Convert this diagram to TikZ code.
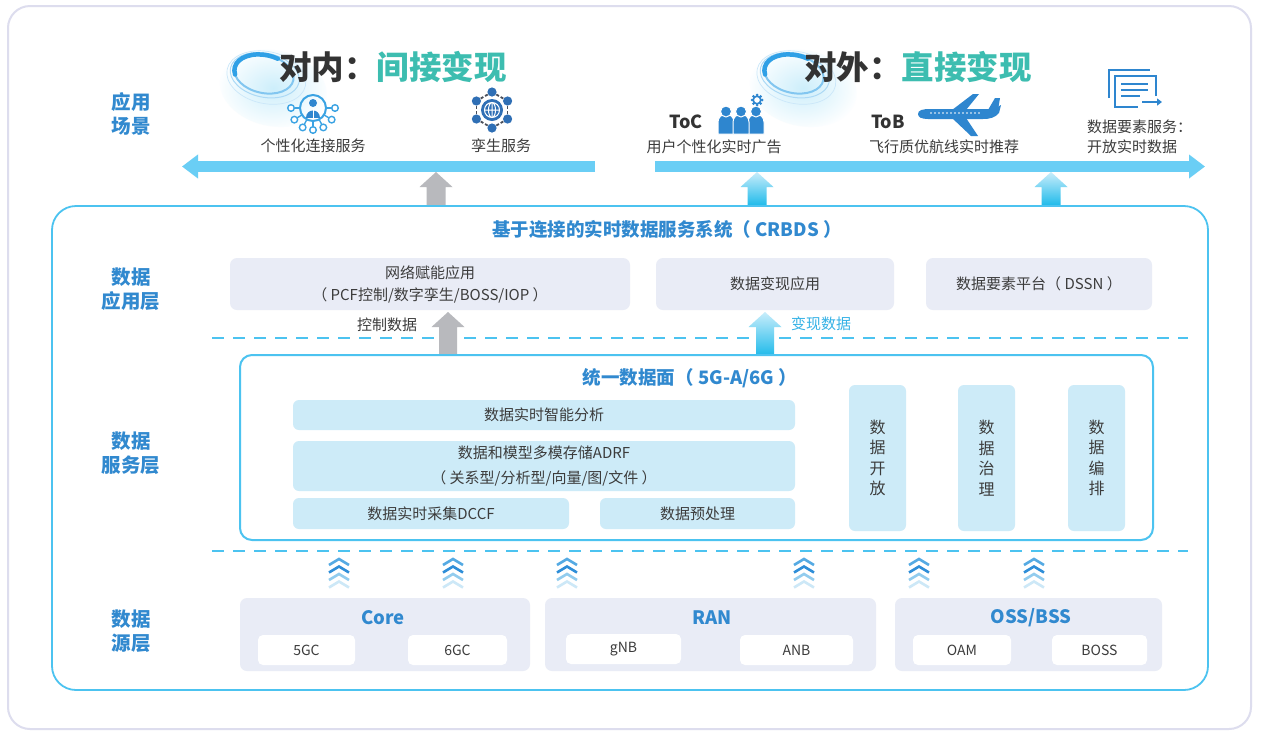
\documentclass[tikz,border=0pt]{standalone}
\usepackage{fontspec}
\setmainfont{Noto Sans CJK SC}
\usetikzlibrary{arrows.meta,calc}

\definecolor{framegray}{HTML}{DDDDEE}
\definecolor{sysline}{HTML}{4CC3F0}
\definecolor{headblue}{HTML}{3189CF}
\definecolor{txtgray}{HTML}{3C3C3C}
\definecolor{appfill}{HTML}{E9ECF6}
\definecolor{svcfill}{HTML}{CDEBF8}
\definecolor{flowblue}{HTML}{6ACEF5}
\definecolor{greyarrow}{HTML}{B8B9BD}
\definecolor{tealtext}{HTML}{3DBDB0}
\definecolor{hdrgray}{HTML}{333333}
\definecolor{iconblue}{HTML}{2E86CF}
\definecolor{ringblue}{HTML}{3BA3E3}
\definecolor{globeblue}{HTML}{2F6FB5}
\definecolor{linkgray}{HTML}{4A4F5A}
\definecolor{swirlblue}{HTML}{2FA0E6}
\definecolor{monblue}{HTML}{35B2E6}
\definecolor{arrtop}{HTML}{C8EDFB}
\definecolor{arrbot}{HTML}{22BBEA}
\definecolor{chevA}{HTML}{2F8ED8}
\definecolor{chevB}{HTML}{55AAE3}
\definecolor{chevC}{HTML}{92CCEE}
\definecolor{chevD}{HTML}{CDE8F7}

\tikzset{
  layerlbl/.style={font=\bfseries\fontsize{19.5}{23.5}\selectfont, text=headblue, align=center, inner sep=0},
  bodytxt/.style={font=\fontsize{15}{20}\selectfont, text=txtgray, align=center, inner sep=0},
  hdr/.style={font=\bfseries\fontsize{32.5}{36}\selectfont, text=hdrgray, inner sep=0},
  tagtxt/.style={font=\bfseries\fontsize{18}{22}\selectfont, text=hdrgray, inner sep=0},
  secttl/.style={font=\bfseries\fontsize{18.5}{22}\selectfont, text=headblue, inner sep=0},
  appbox/.style={fill=appfill, rounded corners=7pt, font=\fontsize{15}{22}\selectfont, text=txtgray, align=center, inner sep=0},
  svcbox/.style={fill=svcfill, rounded corners=6pt, font=\fontsize{15}{25}\selectfont, text=txtgray, align=center, inner sep=0},
  vbox/.style={svcbox, font=\fontsize{16}{20.5}\selectfont},
  srcbox/.style={fill=appfill, rounded corners=7pt, inner sep=0},
  leafbox/.style={fill=white, rounded corners=5pt, font=\fontsize{14}{16}\selectfont, text=txtgray, inner sep=0},
  flow/.style={draw=flowblue, line width=11pt, -{Triangle[width=23pt,length=16pt]}},
  greyup/.style={fill=greyarrow},
  blueup/.style={top color=arrtop, bottom color=arrbot},
  sepdash/.style={draw=sysline, line width=1.8pt, dash pattern=on 12pt off 9pt},
}

% upward block arrow: style, x, tip y, base y, half shaft width
\newcommand{\blockup}[5]{%
  \path[#1] ({#2-#5},#4) -- ({#2-#5},{#3+15}) -- ({#2-16.5},{#3+15}) -- (#2,#3)
    -- ({#2+16.5},{#3+15}) -- ({#2+#5},{#3+15}) -- ({#2+#5},#4) -- cycle;}

% swirl ornament behind the headings
\newcommand{\swirl}[2]{%
  \begin{scope}[shift={(#1,#2)}, rotate=-12]
    \shade[inner color=sysline!28, outer color=white] (12,12) ellipse (54 and 38);
    \draw[swirlblue!25, line width=0.7pt] (3,3) ellipse (40 and 26);
    \draw[swirlblue!40, line width=1pt] (1,1) ellipse (35 and 22);
    \draw[swirlblue!60, line width=2pt] (0,0) ellipse (30 and 19);
    \draw[swirlblue, line width=4.5pt, line cap=round] (160:30 and 19)
      arc[start angle=160, end angle=290, x radius=30, y radius=19];
  \end{scope}}

\begin{document}
\begin{tikzpicture}[x=1pt, y=-1pt]
\useasboundingbox (0,0) rectangle (1262,732);
\fill[white] (0,0) rectangle (1262,732);

% outer frame
\draw[framegray, line width=2pt, rounded corners=22pt] (8,6) rectangle (1251,729);

% ---------- application scenarios ----------
\swirl{264}{74}
\swirl{794}{74}

\node[hdr] (inhdr) at (393,67) {对内：\textcolor{tealtext}{间接变现}};
\node[hdr] (outhdr) at (918,67) {对外：\textcolor{tealtext}{直接变现}};

% personal connection icon
\begin{scope}[shift={(313,108)}]
  \foreach \a in {0,32,62,90,118,148,180} {
    \draw[ringblue, line width=1.4pt] (\a:13) -- (\a:18.5);
    \draw[ringblue, line width=1.4pt, fill=white] (\a:22) circle (3.3);
  }
  \draw[ringblue, line width=2pt] (0,0) circle (13);
  \fill[iconblue] (0,-5) circle (4);
  \fill[iconblue] (-7,10) .. controls (-7,0) and (7,0) .. (7,10) -- cycle;
  \draw[white, line width=0.8pt] (0,0) -- (0,10);
\end{scope}

% twin service icon
\begin{scope}[shift={(492,110)}]
  \foreach \a in {30,90,...,330}
    \draw[linkgray, line width=1.8pt, dash pattern=on 3pt off 2pt] (\a:18) -- (\a+60:18);
  \foreach \a in {30,90,...,330}
    \fill[globeblue] (\a:18) circle (4.6);
  \fill[globeblue] (0,0) circle (11);
  \draw[white, line width=1pt] (0,0) circle (7.5) (-7.5,0) -- (7.5,0) (0,-7.5) -- (0,7.5)
    (0,0) ellipse (3.5 and 7.5);
\end{scope}

% ToC people icon
\begin{scope}[shift={(741,120)}]
  \foreach \dx in {-15,15,0} {
    \fill[iconblue, draw=white, line width=1pt] ({\dx-8},14) -- ({\dx-8},2)
      arc[start angle=180, end angle=360, radius=8] -- ({\dx+8},14) -- cycle;
    \fill[iconblue, draw=white, line width=1pt] (\dx,-8.5) circle (5.5);
  }
  \begin{scope}[shift={(16,-20)}]
    \foreach \a in {0,45,...,315} \fill[iconblue] (\a:5) circle (1.5);
    \draw[iconblue, line width=1.6pt, fill=white] (0,0) circle (3.8);
  \end{scope}
\end{scope}

% ToB plane icon
\begin{scope}[shift={(958,115)}]
  \fill[iconblue] (-6,-5) -- (15,-21) -- (21,-21) -- (8,-5) -- cycle;
  \fill[iconblue] (-6,3) -- (13,21) -- (20,21) -- (8,3) -- cycle;
  \fill[iconblue] (30,-5) -- (37,-17) -- (42,-17) -- (40,-5) -- cycle;
  \fill[iconblue] (-40,-1) .. controls (-40,-5) and (-35,-6) .. (-28,-6) -- (32,-6)
    .. controls (37,-6) and (40,-8) .. (43,-10) -- (41,-2)
    .. controls (37,3) and (31,4) .. (25,4) -- (-30,4)
    .. controls (-37,4) and (-40,2) .. (-40,-1) -- cycle;
  \foreach \x in {-27,-23,...,21} \fill[white] (\x,-2) circle (0.8);
\end{scope}

% data element service icon
\draw[iconblue, line width=2pt] (1109,98) -- (1109,70) -- (1150,70);
\draw[iconblue, line width=2pt] (1156,96) -- (1156,76) -- (1115,76) -- (1115,107) -- (1138,107);
\draw[iconblue, line width=2pt] (1121,84) -- (1148,84) (1121,90) -- (1148,90) (1121,96) -- (1140,96);
\draw[iconblue, line width=2pt, -{Triangle[width=7pt,length=5pt]}] (1142,102) -- (1162,102);

\node[bodytxt] (pconn) at (313,146) {个性化连接服务};
\node[bodytxt] (twin) at (501,146) {孪生服务};
\node[tagtxt] (toc) at (686,122) {ToC};
\node[bodytxt] (tocad) at (714,147) {用户个性化实时广告};
\node[tagtxt] (tob) at (888,122) {ToB};
\node[bodytxt] (tobrt) at (944,147) {飞行质优航线实时推荐};
\node[bodytxt, align=left, anchor=west] (dsvc) at (1087,137) {数据要素服务：\\开放实时数据};

% value flows
\coordinate (inflowS) at (595,166.5);
\coordinate (inflowE) at (182,166.5);
\coordinate (outflowS) at (655,166.5);
\coordinate (outflowE) at (1205,166.5);
\draw[flow] (inflowS) -- (inflowE);
\draw[flow] (outflowS) -- (outflowE);

\blockup{greyup}{436}{172}{205}{9.5}
\blockup{blueup}{757}{172}{205}{9.5}
\blockup{blueup}{1051}{172}{205}{9.5}

% ---------- CRBDS system ----------
\draw[sysline, line width=1.8pt, rounded corners=24pt] (52,206) rectangle (1208,690);
\node[secttl] (crbds) at (667,229) {基于连接的实时数据服务系统（ CRBDS ）};

% layer labels
\node[layerlbl] (lscene) at (131,114) {应用\\场景};
\node[layerlbl] (lapp) at (131,289) {数据\\应用层};
\node[layerlbl] (lsvc) at (131,453) {数据\\服务层};
\node[layerlbl] (lsrc) at (131,631) {数据\\源层};

% data application layer
\node[appbox, minimum width=400, minimum height=52] (netapp) at (430,284)
  {网络赋能应用\\（ PCF控制/数字孪生/BOSS/IOP ）};
\node[appbox, minimum width=238, minimum height=52] (monapp) at (775,284) {数据变现应用};
\node[appbox, minimum width=226, minimum height=52] (dssn) at (1039,284) {数据要素平台（ DSSN ）};

\draw[sepdash] (212,338) -- (1188,338);
\draw[sepdash] (212,551) -- (1188,551);

\node[bodytxt] (ctrl) at (387,325) {控制数据};
\node[bodytxt, text=monblue] (mon) at (821,324) {变现数据};
\blockup{greyup}{448}{312}{355}{9}
\blockup{blueup}{765}{312}{355}{9}

% unified data plane
\draw[sysline, line width=2pt, rounded corners=12pt] (240,355) rectangle (1153,540);
\node[secttl] (udp) at (690,378) {统一数据面（ 5G-A/6G ）};

\node[svcbox, minimum width=502, minimum height=30] (analyt) at (544,415) {数据实时智能分析};
\node[svcbox, minimum width=502, minimum height=50] (adrf) at (544,466)
  {数据和模型多模存储ADRF\\（ 关系型/分析型/向量/图/文件 ）};
\node[svcbox, minimum width=276, minimum height=31] (dccf) at (431,513.5) {数据实时采集DCCF};
\node[svcbox, minimum width=195, minimum height=31] (prep) at (697.5,513.5) {数据预处理};

\node[vbox, minimum width=57, minimum height=146] (dopen) at (877.5,458) {数\\据\\开\\放};
\node[vbox, minimum width=57, minimum height=146] (dgov) at (986.5,458) {数\\据\\治\\理};
\node[vbox, minimum width=57, minimum height=146] (dorch) at (1096.5,458) {数\\据\\编\\排};

% upstream chevrons
\foreach \cx in {339,453,567,804,919,1034} {
  \foreach \i/\c in {0/chevB,1/chevA,2/chevC,3/chevD} {
    \draw[\c, line width=2.6pt] ({\cx-10},{565+\i*7.5}) -- (\cx,{559+\i*7.5}) -- ({\cx+10},{565+\i*7.5});
  }
}

% data source layer
\node[srcbox, minimum width=290, minimum height=73] (core) at (385,634.5) {};
\node[secttl] (coret) at (383,618) {Core};
\node[leafbox, minimum width=97, minimum height=30] (g5gc) at (306.5,650) {5GC};
\node[leafbox, minimum width=99, minimum height=30] (g6gc) at (457.5,650) {6GC};

\node[srcbox, minimum width=331, minimum height=73] (ran) at (710.5,634.5) {};
\node[secttl] (rant) at (712,618) {RAN};
\node[leafbox, minimum width=115, minimum height=30] (gnb) at (623.5,649) {\raisebox{2pt}{gNB}};
\node[leafbox, minimum width=113, minimum height=30] (anb) at (796.5,650) {ANB};

\node[srcbox, minimum width=267, minimum height=73] (oss) at (1028.5,634.5) {};
\node[secttl] (osst) at (1031,618) {OSS/BSS};
\node[leafbox, minimum width=98, minimum height=30] (oam) at (962,650) {OAM};
\node[leafbox, minimum width=95, minimum height=30] (boss) at (1099.5,650) {BOSS};

\end{tikzpicture}
\end{document}
